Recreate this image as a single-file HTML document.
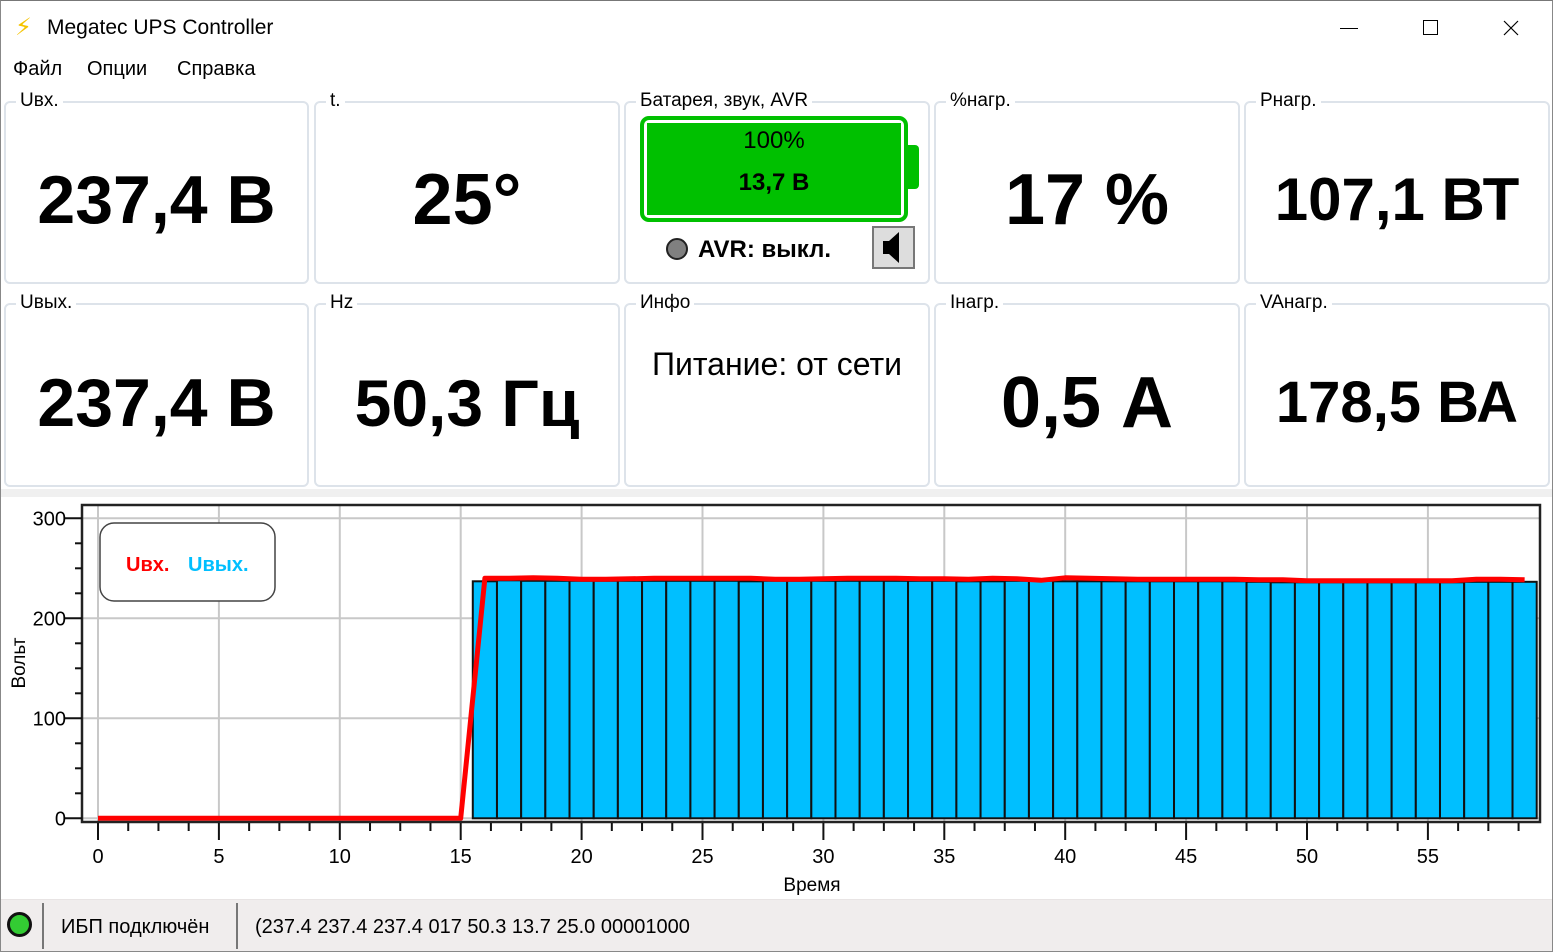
<!DOCTYPE html>
<html><head><meta charset="utf-8"><style>
*{box-sizing:border-box;margin:0;padding:0}
body{width:1553px;height:952px;overflow:hidden;background:#fff;font-family:"Liberation Sans","DejaVu Sans",sans-serif;position:relative;color:#000}
.win{position:absolute;left:0;top:0;width:1553px;height:952px;border:1px solid #888;border-top:1px solid #777}
.title{position:absolute;left:46px;top:15px;font-size:21px}
.menu{position:absolute;top:57px;font-size:20px}
.panel{position:absolute;border:2px solid #dde3ea;border-radius:6px;background:#fff}
.lbl{position:absolute;left:10px;top:-13px;background:#fff;padding:0 4px;font-size:19px;line-height:22px}
.big{position:absolute;left:0;right:0;text-align:center;font-weight:bold;font-size:68px;line-height:70px}
.status{position:absolute;left:0;top:898px;width:1551px;height:52px;background:#f0eded;border-top:1px solid #e8e4e4}
</style></head><body>
<div class="win">
<div style="position:absolute;left:14px;top:12px;font-size:24px;color:#f5c400">⚡</div>
<div class="title">Megatec UPS Controller</div>
<div style="position:absolute;left:1339px;top:27px;width:18px;height:1px;background:#000"></div>
<div style="position:absolute;left:1422px;top:19px;width:15px;height:15px;border:1px solid #000"></div>
<svg style="position:absolute;left:1502px;top:19px" width="16" height="16"><path d="M1 1L15 15M15 1L1 15" stroke="#000" stroke-width="1.2"/></svg>
<div class="menu" style="left:12px">Файл</div>
<div class="menu" style="left:86px">Опции</div>
<div class="menu" style="left:176px">Справка</div>

<div class="panel" style="left:3px;top:100px;width:305px;height:183px"><div class="lbl">Uвх.</div><div class="big" style="top:62px">237,4 В</div></div>
<div class="panel" style="left:313px;top:100px;width:306px;height:183px"><div class="lbl">t.</div><div class="big" style="top:62px;font-size:72px">25°</div></div>
<div class="panel" style="left:623px;top:100px;width:306px;height:183px"><div class="lbl">Батарея, звук, AVR</div>
 <div style="position:absolute;left:14px;top:13px;width:268px;height:106px;border:4px solid #00c000;border-radius:9px;padding:3px"><div style="width:100%;height:100%;background:#00c000;text-align:center"><div style="font-size:24px;padding-top:4px">100%</div><div style="font-size:24px;font-weight:bold;padding-top:14px">13,7 В</div></div></div>
 <div style="position:absolute;left:280px;top:42px;width:13px;height:44px;background:#00c000;border-radius:0 4px 4px 0"></div>
 <div style="position:absolute;left:40px;top:135px;width:22px;height:22px;border-radius:50%;background:#808080;border:2px solid #222"></div>
 <div style="position:absolute;left:72px;top:133px;font-size:24px;font-weight:bold">AVR: выкл.</div>
 <div style="position:absolute;left:246px;top:123px;width:43px;height:43px;background:#ddd;border:2px solid #777"><svg width="39" height="39"><polygon points="9,13 15,13 25,4 25,35 15,26 9,26" fill="#000"/></svg></div>
</div>
<div class="panel" style="left:933px;top:100px;width:306px;height:183px"><div class="lbl">%нагр.</div><div class="big" style="top:62px;font-size:72px">17 %</div></div>
<div class="panel" style="left:1243px;top:100px;width:306px;height:183px"><div class="lbl">Pнагр.</div><div class="big" style="top:62px;font-size:60px">107,1 ВТ</div></div>

<div class="panel" style="left:3px;top:302px;width:305px;height:184px"><div class="lbl">Uвых.</div><div class="big" style="top:63px">237,4 В</div></div>
<div class="panel" style="left:313px;top:302px;width:306px;height:184px"><div class="lbl">Hz</div><div class="big" style="top:63px;font-size:66px">50,3 Гц</div></div>
<div class="panel" style="left:623px;top:302px;width:306px;height:184px"><div class="lbl">Инфо</div><div style="position:absolute;left:0;right:0;top:41px;text-align:center;font-size:32px">Питание: от сети</div></div>
<div class="panel" style="left:933px;top:302px;width:306px;height:184px"><div class="lbl">Iнагр.</div><div class="big" style="top:63px;font-size:72px">0,5 А</div></div>
<div class="panel" style="left:1243px;top:302px;width:306px;height:184px"><div class="lbl">VAнагр.</div><div class="big" style="top:63px;font-size:58px">178,5 ВА</div></div>

<div style="position:absolute;left:0;top:488px;width:1551px;height:8px;background:#f0f0f0"></div>
<svg id="chart" style="position:absolute;left:-1px;top:496px" width="1553" height="402"></svg>

<div class="status">
 <div style="position:absolute;left:6px;top:12px;width:25px;height:25px;border-radius:50%;background:#33cc33;border:3px solid #111"></div>
 <div style="position:absolute;left:41px;top:3px;width:2px;height:46px;background:#777"></div>
 <div style="position:absolute;left:60px;top:16px;font-size:20px">ИБП подключён</div>
 <div style="position:absolute;left:235px;top:3px;width:2px;height:46px;background:#777"></div>
 <div style="position:absolute;left:254px;top:16px;font-size:20px">(237.4 237.4 237.4 017 50.3 13.7 25.0 00001000</div>
</div>
</div>
<script>
const inputVoltage=[0,0,0,0,0,0,0,0,0,0,0,0,0,0,0,0,240,240,240.5,240,239,239,239.5,240,240,240,240,240,239,239,239.5,240,240,240,239.5,239.5,239,240,239.5,238,240.5,240,239.5,239,239,239,239,239,238.5,238.5,237.5,237.5,237.5,237.5,237.5,237.5,237.5,239,239,238.5];
const outputVoltage=[237,238,237.5,237.5,237.5,237.5,237.5,237.5,237.5,237.5,237.5,237,237.5,237.5,237.5,237.5,237.5,237.5,237.5,237.5,237,237,237.5,237.5,237,237,237,237,237,237,237,237,236.5,236,236,236,236,236,236,236,236,236.5,236.5,236.5];
const outputStart=16;
const xTicks=[0,5,10,15,20,25,30,35,40,45,50,55];
const yTicks=[0,100,200,300];
const NS='http://www.w3.org/2000/svg';
const svg=document.getElementById('chart');
const L=82,R=1540,T=8,B=325;
const X=v=>98+v*24.18;
const Y=v=>321.3-v*1.0;
function mk(t,a,p){const e=document.createElementNS(NS,t);for(const k in a)e.setAttribute(k,a[k]);(p||svg).appendChild(e);return e;}
xTicks.forEach(v=>{const g=mk('line',{x1:X(v),x2:X(v),y1:T,y2:B,stroke:'#c8c8c8','stroke-width':2});});
yTicks.forEach(v=>{const g=mk('line',{x1:L,x2:R,y1:Y(v),y2:Y(v),stroke:'#c8c8c8','stroke-width':2});});
outputVoltage.forEach((v,i)=>{const x=outputStart+i;const b=mk('rect',{x:X(x-0.5),y:Y(v),width:24.18,height:Y(0)-Y(v),fill:'#00bfff',stroke:'#111','stroke-width':2});

});
const pl=mk('polyline',{points:inputVoltage.map((v,i)=>X(i)+','+Y(v)).join(' '),fill:'none',stroke:'#ff0000','stroke-width':5,'stroke-linejoin':'round'});


const fr=mk('rect',{x:L,y:T,width:R-L,height:B-T,fill:'none',stroke:'#222','stroke-width':2.5});


for(let v=0;v<=59;v+=1.25){const major=xTicks.includes(v);mk('line',{x1:X(v),x2:X(v),y1:B+1,y2:B+(major?18:9),stroke:'#111','stroke-width':2});}
xTicks.forEach(v=>{const t=mk('text',{x:X(v),y:B+41,'text-anchor':'middle','font-size':20,'font-family':'Liberation Sans, sans-serif'});t.textContent=v;

});
for(let v=0;v<=300;v+=25){const major=v%100===0;mk('line',{x1:major?64:75,x2:L,y1:Y(v),y2:Y(v),stroke:'#111','stroke-width':2});}
yTicks.forEach(v=>{const t=mk('text',{x:66,y:Y(v)+7,'text-anchor':'end','font-size':20,'font-family':'Liberation Sans, sans-serif'});t.textContent=v;

});
const xt=mk('text',{x:812,y:B+69,'text-anchor':'middle','font-size':19,'font-family':'Liberation Sans, sans-serif'});xt.textContent='Время';


const yt=mk('text',{x:0,y:0,'text-anchor':'middle','font-size':19,'font-family':'Liberation Sans, sans-serif',transform:'translate(25,166) rotate(-90)'});yt.textContent='Вольт';


const lg=mk('rect',{x:100,y:26,width:175,height:78,rx:14,fill:'#fff',stroke:'#444','stroke-width':1.5});


const l1=mk('text',{x:126,y:74,'font-size':20,'font-weight':'bold',fill:'#ff0000','font-family':'Liberation Sans, sans-serif'});l1.textContent='Uвх.';


const l2=mk('text',{x:188,y:74,'font-size':20,'font-weight':'bold',fill:'#00bfff','font-family':'Liberation Sans, sans-serif'});l2.textContent='Uвых.';


</script>
</body></html>
